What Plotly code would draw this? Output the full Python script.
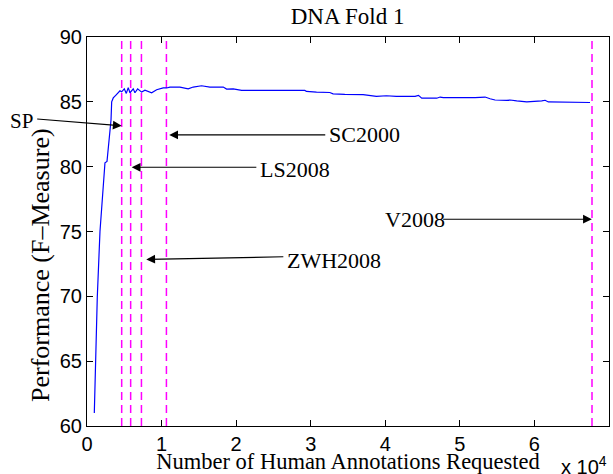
import plotly.graph_objects as go

# Performance curve (x = number of annotations, y = F-measure)
curve_x = [980, 1380, 1740, 2140, 2410, 2680, 3120, 3220, 3310, 3520, 3850, 4190, 4420, 4650,
           5000, 5270, 5530, 5760, 6200, 6430, 6790, 7330, 7770, 8670, 9340, 10220, 10680,
           11120, 12460, 13570, 14240, 15360, 16030, 16480, 18270, 18720, 19610, 20060, 20730,
           29210, 29440, 30780, 32560, 33000, 34570, 37030, 38810, 40150, 41490,
           44000, 44450, 44890, 46900, 47350, 47790, 52040, 53380, 54050, 54720, 56290,
           56730, 57630, 58970, 60980, 61430, 61870, 62540, 65440, 65890, 67450]
curve_y = [61.0, 69.95, 75.0, 78.2, 80.3, 80.4, 83.0, 83.6, 85.0, 85.3, 85.5, 85.7, 85.85, 85.77,
           86.0, 85.65, 86.1, 85.7, 86.0, 85.7, 86.0, 85.75, 85.9, 85.7, 85.93, 86.07, 86.07,
           86.14, 86.14, 86.0, 86.14, 86.24, 86.19, 86.14, 86.14, 85.98, 86.0, 85.93, 85.88,
           85.88, 85.8, 85.75, 85.72, 85.62, 85.57, 85.55, 85.42, 85.47, 85.42,
           85.42, 85.5, 85.28, 85.28, 85.37, 85.32, 85.32, 85.37, 85.24, 85.14, 85.12,
           85.14, 85.07, 84.99, 85.07, 85.12, 84.99, 84.99, 84.99, 84.95, 84.95]

# Vertical dashed reference lines
vline_x = [4650, 5855, 7300, 10650, 67720]

# Labels with arrows
label_names = ["SC2000", "LS2008", "ZWH2008", "V2008"]
label_text_x = [32150, 22910, 26530, 39650]
label_text_y = [82.45, 79.75, 72.8, 75.9]
arrow_tail_x = [32150, 22910, 26530, 47560]
arrow_tail_y = [82.45, 79.95, 73.05, 75.95]
arrow_head_x = [11025, 5990, 7950, 67700]
arrow_head_y = [82.45, 79.95, 72.85, 75.95]

x_tickvals = [0, 10000, 20000, 30000, 40000, 50000, 60000, 70000]
x_ticktext = ["0", "1", "2", "3", "4", "5", "6", "7"]
y_tickvals = [60, 65, 70, 75, 80, 85, 90]

serif = "Liberation Serif, Times New Roman, serif"
sans = "Liberation Sans, Arial, sans-serif"

fig = go.Figure()
for vx in vline_x:
    fig.add_trace(go.Scatter(x=[vx, vx], y=[60, 90], mode="lines",
                             line=dict(color="#ff00ff", width=1.5, dash="8px,5px"),
                             showlegend=False, hoverinfo="skip"))
fig.add_trace(go.Scatter(x=curve_x, y=curve_y, mode="lines",
                         line=dict(color="#0000ff", width=1.2), showlegend=False))

annotations = []
for i in range(len(label_names)):
    annotations.append(dict(x=arrow_head_x[i], y=arrow_head_y[i], xref="x", yref="y",
                            ax=arrow_tail_x[i], ay=arrow_tail_y[i], axref="x", ayref="y",
                            text="", showarrow=True, arrowhead=2, arrowsize=1.6,
                            arrowwidth=1.1, arrowcolor="black"))
    annotations.append(dict(x=label_text_x[i], y=label_text_y[i], xref="x", yref="y",
                            text=label_names[i], showarrow=False, xanchor="left",
                            yanchor="middle", font=dict(family=serif, size=22, color="black")))

# SP arrow (text outside plot on the left)
annotations.append(dict(x=4650, y=83.15, xref="x", yref="y", ax=-86, ay=-7,
                        text="", showarrow=True, arrowhead=2, arrowsize=1.6,
                        arrowwidth=1.1, arrowcolor="black"))
annotations.append(dict(x=-0.125, y=83.55, xref="paper", yref="y", text="SP",
                        showarrow=False, xanchor="center", yanchor="middle",
                        font=dict(family=serif, size=21, color="black")))
# y-axis title (placed as annotation to match its off-centre position)
annotations.append(dict(x=-0.088, y=0.414, xref="paper", yref="paper",
                        text="Performance (F\u2013Measure)", textangle=-90, showarrow=False,
                        xanchor="center", yanchor="middle",
                        font=dict(family=serif, size=26, color="black")))
# exponent label
annotations.append(dict(x=0.905, y=-0.064, xref="paper", yref="paper",
                        text="x 10<sup>4</sup>", showarrow=False, xanchor="left",
                        yanchor="top", font=dict(family=sans, size=20, color="black")))

fig.update_layout(
    width=613, height=474,
    margin=dict(l=87, r=4, t=37, b=48),
    paper_bgcolor="white", plot_bgcolor="white",
    title=dict(text="DNA Fold 1", x=0.567, xanchor="center", y=0.966, yanchor="middle",
               font=dict(family=serif, size=23, color="black")),
    xaxis=dict(range=[0, 70000], tickvals=x_tickvals, ticktext=x_ticktext,
               ticks="inside", ticklen=6, tickcolor="black", showline=True,
               linecolor="black", linewidth=1.2, mirror="ticks", showgrid=False,
               zeroline=False, tickfont=dict(family=sans, size=20, color="black"),
               title=dict(text="Number of Human Annotations Requested", standoff=0,
                          font=dict(family=serif, size=22.5, color="black"))),
    yaxis=dict(range=[60, 90], tickvals=y_tickvals, ticks="inside", ticklen=6,
               tickcolor="black", showline=True, linecolor="black", linewidth=1.2,
               mirror="ticks", showgrid=False, zeroline=False,
               tickfont=dict(family=sans, size=20, color="black")),
    annotations=annotations,
)

fig.write_html("out.html", config={"displayModeBar": False},
               post_script="document.body.style.margin='0';document.body.style.overflow='hidden';")
